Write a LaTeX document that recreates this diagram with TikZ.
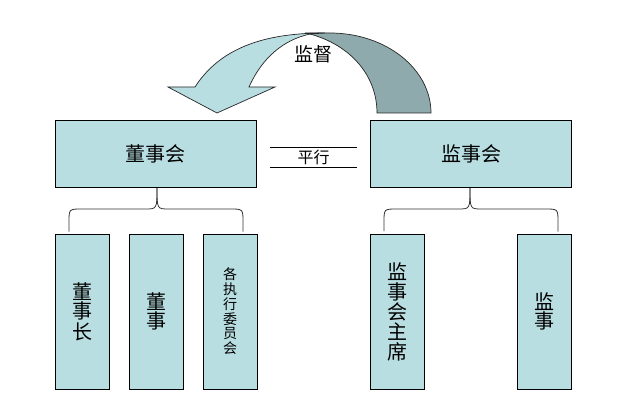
\documentclass[tikz,border=0pt]{standalone}
\usepackage{fontspec}
\newfontfamily\cjk{Noto Sans CJK SC}
\definecolor{boxfill}{RGB}{185,222,226}
\definecolor{darkfill}{RGB}{143,170,172}
\begin{document}
\begin{tikzpicture}[x=1pt,y=-1pt,
  box/.style={draw=black,fill=boxfill,line width=0.8pt,inner sep=0pt,font=\cjk},
  bigbox/.style={box,minimum width=201pt,minimum height=67pt},
  tallbox/.style={box,minimum width=54pt,minimum height=155pt},
  conn/.style={draw=black!80,line width=0.8pt},
  lbl/.style={font=\cjk,inner sep=0pt}]
\useasboundingbox (0,0) rectangle (619,417);
% curved arrow: back (dark) part
\fill[darkfill,draw=black!85,line width=0.7pt] (305,33) -- (330,33)
  .. controls (386,33) and (431,69) .. (431,113) -- (377,113)
  .. controls (377,75) and (350,45) .. (310,34) -- cycle;
% front (light) part with head
\fill[boxfill,draw=black!85,line width=0.7pt] (195,87)
  .. controls (222,45) and (270,33) .. (325,33) -- (310,34)
  .. controls (283,40) and (262,58) .. (249,87)
  -- (275,87) -- (217,113) -- (168,87) -- cycle;
\node[lbl,font=\cjk\fontsize{19}{20}\selectfont] (jd) at (313,54) {监督};
% top boxes
\node[bigbox,font=\cjk\fontsize{20}{22}\selectfont] (dsh) at (155.5,154) {董事会};
\node[bigbox,font=\cjk\fontsize{20}{22}\selectfont] (jsh) at (471,154) {监事会};
% parallel
\coordinate (p1a) at (270,147); \coordinate (p1b) at (357,147);
\coordinate (p2a) at (270,167); \coordinate (p2b) at (357,167);
\draw[line width=0.8pt] (p1a) -- (p1b) (p2a) -- (p2b);
\node[lbl,font=\cjk\fontsize{16}{18}\selectfont] (px) at (313.5,157) {平行};
% bottom boxes
\node[tallbox,font=\cjk\fontsize{20}{20}\selectfont] (dsz) at (82.5,311.5) {\shortstack{董\\[-1pt]事\\[-1pt]长}};
\node[tallbox,font=\cjk\fontsize{20}{20}\selectfont] (ds) at (156,311.5) {\shortstack{董\\[-1pt]事}};
\node[tallbox,font=\cjk\fontsize{14}{14}\selectfont] (wyh) at (230,311.5) {\shortstack{各\\[-1pt]执\\[-1pt]行\\[-1pt]委\\[-1pt]员\\[-1pt]会}};
\node[tallbox,font=\cjk\fontsize{20}{20}\selectfont] (zx) at (397.5,312) {\shortstack{监\\[-1pt]事\\[-1pt]会\\[-1pt]主\\[-1pt]席}};
\node[tallbox,font=\cjk\fontsize{20}{20}\selectfont] (js) at (544.5,311.5) {\shortstack{监\\[-1pt]事}};
% braces
\draw[conn] (dsz.north -| 69,0) ++(0,-2) -- (69,222) .. controls (69,209) .. (82,209)
  -- (145,209) .. controls (157,209) .. (157,188);
\draw[conn] (wyh.north -| 243,0) ++(0,-2) -- (243,222) .. controls (243,209) .. (230,209)
  -- (169,209) .. controls (157,209) .. (157,188);
\draw[conn] (zx.north -| 384,0) ++(0,-3) -- (384,222) .. controls (384,209) .. (397,209)
  -- (458,209) .. controls (470,209) .. (470,188);
\draw[conn] (js.north -| 558,0) ++(0,-2) -- (558,222) .. controls (558,209) .. (545,209)
  -- (482,209) .. controls (470,209) .. (470,188);
\end{tikzpicture}
\end{document}
